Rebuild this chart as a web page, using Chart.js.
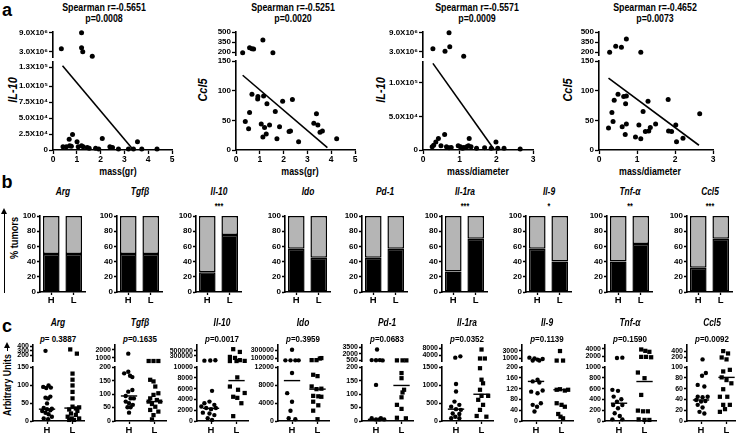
<!DOCTYPE html>
<html>
<head>
<meta charset="utf-8">
<script src="https://cdn.jsdelivr.net/npm/chart.js@4.4.1/dist/chart.umd.min.js"></script>
<style>
  html, body { margin: 0; padding: 0; background: #fff; }
  body { position: relative; width: 736px; height: 435px; overflow: hidden; color: #000;
         font-family: 'Liberation Sans', Arial, sans-serif; }
  .lbl { position: absolute; white-space: nowrap; line-height: 1; font-weight: bold; transform: translate(-50%, -50%) scaleX(0.84); }
  .rot { transform: translate(-50%, -50%) rotate(-90deg) scaleX(0.84); }
  .it { font-style: italic; }
  .panel { transform: translate(-50%, -50%); }
  canvas { position: absolute; }
  .arrow { position: absolute; border-left: 1.5px solid #000; }
  .arrow::before { content: ''; position: absolute; left: -4px; top: -5px; border-left: 3px solid transparent;
                   border-right: 3px solid transparent; border-bottom: 6px solid #000; }
</style>
</head>
<body>
<script>
// ---------- a: scatter vs tumour size ----------
const groups = ['H', 'L'];

// [x, y]
const massIl10 = [[0.35, 4.0e6], [1.2, 9.0e6], [1.2, 4.3e6], [1.25, 3.0e6], [1.65, 1.6e6],
  [0.42, 5000], [0.56, 5200], [0.68, 16700], [0.7, 6800], [0.77, 6000], [0.82, 24500], [1.01, 13000],
  [1.06, 5000], [1.2, 6800], [1.27, 5000], [1.44, 4000], [1.52, 2600], [1.79, 2600], [1.92, 1600],
  [2.07, 18000], [2.39, 5200], [2.5, 4000], [2.75, 1600], [3.17, 1600], [3.38, 1600], [3.55, 13000],
  [3.73, 1600], [4.37, 1600]];
const massCcl5 = [[0.28, 190], [0.57, 265], [0.67, 250], [0.74, 245], [1.13, 380], [1.55, 190],
  [0.39, 48], [0.53, 36], [0.57, 63], [0.67, 94], [0.91, 86], [0.92, 90], [1.06, 44], [1.16, 91],
  [1.13, 22], [1.2, 38], [1.27, 27], [1.3, 78], [1.41, 42], [1.65, 65], [1.72, 19], [1.83, 39],
  [1.96, 82], [2.23, 31], [2.29, 32], [2.37, 85], [2.63, 14], [3.27, 45], [3.38, 61], [3.44, 42],
  [3.53, 30], [3.63, 32], [4.23, 19]];
const ratioIl10 = [[0.27, 3.95e6], [0.6, 3.2e6], [0.71, 9.0e6], [0.73, 4.6e6], [1.11, 1.6e6],
  [0.25, 4900], [0.29, 6900], [0.35, 12000], [0.42, 17000], [0.49, 6400], [0.59, 23000], [0.64, 4900],
  [0.71, 3400], [0.77, 3900], [0.96, 6400], [1.02, 4900], [1.08, 2500], [1.11, 3900], [1.19, 4900],
  [1.24, 6400], [1.26, 17000], [1.31, 4900], [1.46, 2500], [1.68, 3400], [1.86, 2500], [1.99, 12000],
  [2.04, 2500], [2.21, 2500], [2.65, 1500]];
const ratioCcl5 = [[0.28, 195], [0.44, 285], [0.59, 270], [0.72, 395], [1.1, 195],
  [0.25, 37], [0.34, 63], [0.37, 48], [0.4, 84], [0.5, 94], [0.61, 39], [0.65, 90], [0.69, 26],
  [0.7, 78], [0.72, 91], [0.72, 44], [0.96, 22], [1.05, 42], [1.1, 19], [1.16, 65], [1.22, 31],
  [1.29, 82], [1.31, 32], [1.35, 38], [1.49, 44], [1.82, 85], [1.83, 32], [1.91, 31], [2.02, 42],
  [2.04, 14], [2.21, 20], [2.65, 61]];

// regression line end points
const fitMassIl10 = [[0.4, 132000], [3.38, 0]];
const fitMassCcl5 = [[0.28, 126], [3.84, 4]];
const fitRatioIl10 = [[0.27, 129000], [1.95, 0]];
const fitRatioCcl5 = [[0.25, 121], [2.63, 8]];

const spearmanR = ['Spearman r=-0.5651', 'Spearman r=-0.5251', 'Spearman r=-0.5571', 'Spearman r=-0.4652'];
const spearmanP = ['p=0.0008', 'p=0.0020', 'p=0.0009', 'p=0.0073'];
const scatterY = ['IL-10', 'Ccl5', 'IL-10', 'Ccl5'];
const scatterX = ['mass(gr)', 'mass(gr)', 'mass/diameter', 'mass/diameter'];

const massTicks = [0, 1, 2, 3, 4, 5];
const ratioTicks = [0, 1, 2, 3];
const il10LowTicksMass = [0, 25000, 50000, 75000, 100000, 130000];
const il10LowTicksRatio = [0, 50000, 100000];
const il10HighTicks = [3e6, 9e6];
const ccl5LowTicks = [0, 50, 100, 150];
const ccl5HighTicks = [200, 350, 500];

// ---------- b: % tumours ----------
const genes = ['Arg', 'Tgfβ', 'Il-10', 'Ido', 'Pd-1', 'Il-1ra', 'Il-9', 'Tnf-α', 'Ccl5'];
const stars = ['', '', '***', '', '', '***', '*', '**', '***'];
const blackH = [50, 50, 26, 57, 45, 27, 57, 40, 32];
const blackL = [50, 50, 75, 45, 57, 70, 40, 63, 70];
const grayH = [50, 50, 74, 43, 55, 73, 43, 60, 68];
const grayL = [50, 50, 25, 55, 43, 30, 60, 37, 30];
const pctTicks = [0, 20, 40, 60, 80, 100];

// ---------- c: arbitrary units ----------
const pValues = ['p= 0.3887', 'p=0.1635', 'p=0.0017', 'p=0.3959', 'p=0.0683', 'p=0.0352', 'p=0.1139', 'p=0.1590', 'p=0.0092'];
const lowMaxC = [150, 200, 10000, 12000, 200, 1500, 200, 1000, 100];
const lowTicksC = [[0, 50, 100, 150], [0, 50, 100, 150, 200], [0, 2000, 4000, 6000, 8000, 10000],
  [0, 4000, 8000, 12000], [0, 50, 100, 150, 200], [0, 500, 1000, 1500], [0, 40, 80, 120, 160, 200],
  [0, 200, 400, 600, 800, 1000], [0, 20, 40, 60, 80, 100]];
const highMinC = [80, 600, 90000, 30000, 300, 400, 300, 800, 60];
const highMaxC = [420, 2600, 730000, 420000, 4000, 10000, 4400, 4900, 600];
const highTicksC = [[200, 300, 400], [1000, 2000], [300000, 500000], [100000, 300000], [500, 2000, 3500],
  [4000, 8000], [1000, 3000], [2000, 4000], [200, 400]];
const medH = [33, 93, 2360, 9000, 6, 330, 147, 330, 39];
const medL = [36, 72, 7500, 7100, 132, 745, 116, 733, 81];

// [offset from column centre, value]
const ptsH = [
  [[-0.06, 300], [-0.15, 95], [-0.03, 92], [0.06, 99], [0.15, 93], [-0.06, 65], [0.04, 63], [0.13, 68], [0, 49],
   [-0.13, 36], [0, 33], [0.13, 30], [-0.06, 23], [0.06, 19], [0.19, 12], [-0.13, 7], [0.04, 5], [-0.19, 28], [0.19, 34]],
  [[-0.03, 1540], [-0.19, 177], [-0.03, 183], [0.04, 168], [0.13, 163], [-0.03, 109], [0.13, 115], [-0.13, 93],
   [0.06, 84], [0.19, 84], [-0.13, 72], [0, 66], [0.15, 60], [-0.06, 51], [0.06, 51], [0, 31]],
  [[-0.26, 110000], [-0.03, 115000], [0.17, 125000], [0.04, 5600], [-0.26, 3300], [-0.06, 3600], [0.13, 3000],
   [-0.38, 2700], [-0.19, 2400], [0, 2200], [0.19, 2400], [-0.32, 1550], [-0.06, 1400], [0.13, 1100], [-0.13, 500], [0.04, 200]],
  [[0, 307000], [-0.26, 50000], [-0.06, 50000], [0.13, 50000], [0.26, 50000], [0, 10700], [-0.19, 6200],
   [0, 4300], [-0.06, 2300], [-0.13, 600], [0.13, 400]],
  [[0.04, 3000], [-0.17, 550], [0, 500], [0.15, 550], [0.26, 480], [0, 134], [-0.17, 10], [0, 6], [0.19, 10],
   [0.32, 6], [0.13, 6]],
  [[-0.03, 2500], [0.17, 3300], [0, 1030], [0, 820], [-0.06, 540], [0.13, 450], [-0.19, 400], [0, 330],
   [0.19, 310], [-0.13, 210], [0.13, 195], [-0.03, 120], [-0.19, 75], [0.13, 75]],
  [[-0.26, 1200], [-0.06, 1000], [0.06, 700], [0.26, 850], [-0.13, 450], [0.13, 450], [-0.13, 147], [0.13, 143],
   [0.06, 153], [-0.19, 109], [0.06, 103], [0.26, 113], [-0.13, 60], [0.04, 53], [0.19, 66], [-0.06, 35]],
  [[-0.08, 1600], [0.13, 1700], [-0.26, 578], [-0.04, 560], [-0.21, 453], [0.09, 404], [-0.08, 360],
   [-0.23, 298], [0.13, 298], [-0.04, 236], [-0.17, 143], [0.03, 93], [-0.26, 31], [0.13, 31]],
  [[0.06, 120], [0.19, 89], [0.04, 84], [-0.13, 67], [0.13, 64], [-0.13, 45], [0.06, 44], [0.26, 45], [-0.19, 39],
   [0, 36], [0.17, 37], [-0.13, 30], [0.06, 25], [-0.06, 17], [0.13, 14]]
];
const ptsL = [
  [[-0.09, 330], [0.17, 240], [0, 132], [0, 115], [0, 99], [0, 81], [0, 63], [0, 40], [0.13, 35], [-0.13, 32],
   [0.26, 38], [-0.06, 21], [0.13, 17], [-0.03, 7], [0.26, 7], [0.06, 3], [-0.13, 3], [0.19, 28], [-0.19, 12]],
  [[-0.23, 620], [-0.04, 620], [0.15, 620], [-0.17, 153], [-0.04, 147], [0.03, 128], [0.15, 103], [-0.04, 97],
   [-0.17, 84], [0.09, 78], [-0.23, 72], [0.22, 72], [-0.1, 63], [0.03, 53], [-0.17, 41], [0.15, 35], [-0.04, 22], [-0.1, 6]],
  [[-0.13, 570000], [0.13, 460000], [-0.26, 260000], [-0.06, 220000], [0.13, 130000], [0.32, 100000],
   [-0.26, 95000], [0, 95000], [0.03, 8100], [-0.26, 6400], [0.06, 5800], [0.32, 5200], [-0.13, 4500],
   [0.03, 4300], [0.19, 3300], [-0.13, 900]],
  [[-0.23, 55000], [-0.04, 55000], [0.09, 95000], [0.15, 105000], [-0.17, 10300], [0, 10000], [-0.23, 7700],
   [-0.04, 7100], [0.15, 7200], [-0.17, 5600], [0.03, 5500], [0.15, 5400], [-0.17, 4300], [0.03, 3500],
   [-0.17, 2300], [0, 400]],
  [[-0.18, 480], [0.04, 480], [0.19, 480], [0, 178], [0, 159], [0.1, 116], [0.04, 106], [0, 88], [-0.18, 60],
   [0, 45], [-0.18, 12], [0.17, 10]],
  [[0, 7400], [-0.06, 2000], [0.13, 2000], [-0.06, 1470], [0, 1150], [0.06, 1050], [-0.06, 870], [0, 700],
   [0.26, 700], [-0.13, 590], [0.06, 450], [-0.06, 310], [-0.19, 140], [0.19, 120]],
  [[-0.06, 2900], [-0.19, 450], [0.06, 450], [-0.19, 116], [-0.06, 118], [0.13, 113], [0.26, 116], [-0.19, 66],
   [0, 60], [0.13, 53], [-0.13, 26], [-0.04, 16], [0.06, 10]],
  [[-0.13, 3800], [0.03, 3450], [0.19, 3200], [-0.13, 1900], [0.06, 1900], [0.26, 1800], [-0.26, 900],
   [0, 795], [-0.13, 484], [-0.26, 193], [-0.06, 180], [0.13, 180], [-0.23, 31], [0, 20], [0.19, 20]],
  [[-0.13, 400], [0.06, 320], [-0.19, 185], [0, 120], [-0.13, 92], [0.13, 95], [-0.19, 81], [0, 76], [0.19, 70],
   [-0.13, 59], [-0.26, 45], [0.03, 45], [-0.13, 30], [0.13, 30], [-0.06, 22], [-0.26, 17]]
];

// ---------- helpers ----------
const FF = "'Liberation Sans', Arial, sans-serif";
const SUP = {4: '⁴', 5: '⁵', 6: '⁶'};
function sci(v) {
  if (v === 0) return '0';
  const e = Math.floor(Math.log10(v));
  return (v / Math.pow(10, e)).toFixed(1) + 'X10' + SUP[e];
}
const plain = v => String(v);

function addText(html, x, y, size, cls) {
  const d = document.createElement('div');
  d.className = 'lbl ' + (cls || '');
  d.style.left = x + 'px';
  d.style.top = y + 'px';
  d.style.fontSize = size + 'px';
  d.innerHTML = html;
  document.body.appendChild(d);
}

function addCanvas(area, yw, xh, pad) {
  const left = area.l - yw - pad.left, top = area.t - pad.top;
  const w = area.r + pad.right - left, h = area.b + xh + pad.bottom - top;
  const cv = document.createElement('canvas');
  cv.width = w;
  cv.height = h;
  cv.style.left = left + 'px';
  cv.style.top = top + 'px';
  document.body.appendChild(cv);
  return cv;
}

function yAxis(min, max, ticks, fmt, fs, yw, stackWeight, order, tl) {
  return {
    type: 'linear', position: 'left', stack: 'left', stackWeight: stackWeight, weight: order,
    min: min, max: max, offset: false,
    afterFit: s => { s.width = yw; },
    afterBuildTicks: s => { s.ticks = ticks.map(v => ({value: v})); },
    grid: {drawOnChartArea: false, tickLength: tl, tickWidth: 1.3, tickColor: '#000'},
    border: {color: '#000', width: 1.6},
    ticks: {font: {family: FF, size: fs, weight: 'bold'}, color: '#000', padding: 1, autoSkip: false, callback: v => fmt(v)}
  };
}
function gapAxis(yw, stackWeight) {
  return {
    type: 'linear', position: 'left', stack: 'left', stackWeight: stackWeight, weight: 1,
    afterFit: s => { s.width = yw; },
    grid: {display: false}, border: {display: false}, ticks: {display: false}
  };
}
function xAxisLinear(min, max, ticks, fmt, fs, xh, tl) {
  return {
    type: 'linear', position: 'bottom', min: min, max: max,
    afterFit: s => { s.height = xh; },
    afterBuildTicks: s => { s.ticks = ticks.map(v => ({value: v})); },
    grid: {drawOnChartArea: false, tickLength: tl, tickWidth: 1.3, tickColor: '#000'},
    border: {color: '#000', width: 1.6},
    ticks: {font: {family: FF, size: fs, weight: 'bold'}, color: '#000', padding: 1, autoSkip: false, maxRotation: 0, callback: v => fmt(v)}
  };
}
const toXY = (arr, dx) => arr.map(p => ({x: p[0] + (dx || 0), y: p[1]}));
const baseOpts = {animation: false, responsive: false, devicePixelRatio: 1, events: [],
  plugins: {legend: {display: false}, tooltip: {enabled: false}}};

// ---------- panel a ----------
const aPoints = [massIl10, massCcl5, ratioIl10, ratioCcl5];
const aFits = [fitMassIl10, fitMassCcl5, fitRatioIl10, fitRatioCcl5];
const aXTicks = [massTicks, massTicks, ratioTicks, ratioTicks];
const aLowTicks = [il10LowTicksMass, ccl5LowTicks, il10LowTicksRatio, ccl5LowTicks];
const aHighTicks = [il10HighTicks, ccl5HighTicks, il10HighTicks, ccl5HighTicks];
const aLowMax = [138000, 150, 131000, 150];
const aHighMin = [1.4e6, 155, 1.4e6, 155];
const aHighMax = [9.2e6, 500, 9.2e6, 500];
const aFmt = [sci, plain, sci, plain];
const aAreas = [{l: 53, t: 32, r: 172, b: 150}, {l: 236, t: 32, r: 355, b: 150},
                {l: 423, t: 32, r: 533, b: 150}, {l: 599, t: 32, r: 713, b: 150}];
const aWeights = [[25, 5, 88], [23, 6, 89], [25, 5, 88], [23, 6, 89]];
const aTitleX = [104, 293, 477, 655];
const aYTitleX = [12, 202, 380, 567];
const aXTitleX = [118, 300, 478, 650];

addText('a', 7, 10, 18, 'panel');
aPoints.forEach((pts, i) => {
  addText(spearmanR[i], aTitleX[i], 7, 10.5);
  addText(spearmanP[i], aTitleX[i], 18, 10.5);
  addText(scatterY[i], aYTitleX[i], 90, 13, 'rot it');
  addText(scatterX[i], aXTitleX[i], 171, 10.5);
  const yw = 46, xh = 14;
  const cv = addCanvas(aAreas[i], yw, xh, {left: 0, top: 6, right: 8, bottom: 0});
  const low = pts.filter(p => p[1] <= aLowMax[i]);
  const high = pts.filter(p => p[1] > aLowMax[i]);
  const dot = {pointRadius: 2.5, pointBackgroundColor: '#000', pointBorderWidth: 0, clip: false};
  const w = aWeights[i];
  new Chart(cv, {
    type: 'scatter',
    data: {datasets: [
      Object.assign({data: toXY(high), xAxisID: 'x', yAxisID: 'yTop'}, dot),
      Object.assign({data: toXY(low), xAxisID: 'x', yAxisID: 'yBot'}, dot),
      {data: toXY(aFits[i]), xAxisID: 'x', yAxisID: 'yBot', showLine: true, borderColor: '#000',
       borderWidth: 1.6, pointRadius: 0, clip: false}
    ]},
    options: Object.assign({}, baseOpts, {
      layout: {padding: {left: 0, top: 6, right: 8, bottom: 0}},
      scales: {
        x: xAxisLinear(0, aXTicks[i][aXTicks[i].length - 1], aXTicks[i], plain, 8.5, xh, 4),
        yTop: yAxis(aHighMin[i], aHighMax[i], aHighTicks[i], aFmt[i], 8, yw, w[0], 2, 4),
        yGap: gapAxis(yw, w[1]),
        yBot: yAxis(0, aLowMax[i], aLowTicks[i], aFmt[i], 8, yw, w[2], 0, 4)
      }
    })
  });
});

// ---------- panel b ----------
const bAxes = [40, 117, 196, 285, 362, 442, 526, 607, 687];
addText('b', 7, 182, 18, 'panel');
addText('% tumors', 14, 238, 11, 'rot');
(function () {
  const a = document.createElement('div');
  a.className = 'arrow';
  a.style.cssText = 'left:4px;top:213px;height:80px;';
  document.body.appendChild(a);
})();
genes.forEach((g, i) => {
  const area = {l: bAxes[i], t: 216, r: bAxes[i] + 45, b: 292};
  addText(g, area.l + 22.5, 192, 10, 'it');
  if (stars[i]) addText(stars[i], area.l + 22.5, 206, 8.5);
  const cv = addCanvas(area, 22, 12, {left: 0, top: 6, right: 3, bottom: 0});
  const bar = {borderColor: '#000', borderWidth: 1.5, borderSkipped: false, barPercentage: 0.74, categoryPercentage: 1};
  new Chart(cv, {
    type: 'bar',
    data: {labels: groups, datasets: [
      Object.assign({data: [blackH[i], blackL[i]], backgroundColor: '#000'}, bar),
      Object.assign({data: [grayH[i], grayL[i]], backgroundColor: '#b5b5b5'}, bar)
    ]},
    options: Object.assign({}, baseOpts, {
      layout: {padding: {left: 0, top: 6, right: 3, bottom: 0}},
      scales: {
        x: {stacked: true, afterFit: s => { s.height = 12; },
            grid: {offset: false, drawOnChartArea: false, tickLength: 3, tickWidth: 1.3, tickColor: '#000'},
            border: {color: '#000', width: 1.6},
            ticks: {font: {family: FF, size: 9.5, weight: 'bold'}, color: '#000', padding: 0}},
        y: {stacked: true, min: 0, max: 100, afterFit: s => { s.width = 22; },
            afterBuildTicks: s => { s.ticks = pctTicks.map(v => ({value: v})); },
            grid: {drawOnChartArea: false, tickLength: 3, tickWidth: 1.3, tickColor: '#000'},
            border: {color: '#000', width: 1.6},
            ticks: {font: {family: FF, size: 8, weight: 'bold'}, color: '#000', padding: 1}}
      }
    })
  });
});

// ---------- panel c ----------
const cAxes = [33, 115, 197, 278, 362, 442, 522, 605, 687];
addText('c', 7, 326, 18, 'panel');
addText('Arbitrary Units', 7, 385, 10.5, 'rot');
(function () {
  const a = document.createElement('div');
  a.className = 'arrow';
  a.style.cssText = 'left:7px;top:347px;height:4px;';
  document.body.appendChild(a);
})();
genes.forEach((g, i) => {
  const area = {l: cAxes[i], t: 345, r: cAxes[i] + 52, b: 421};
  addText(g, area.l + 25, 323, 10, 'it');
  addText(pValues[i].replace('p', '<i>p</i>'), area.l + 25, 339, 9.5);
  const yw = 30, xh = 12;
  const cv = addCanvas(area, yw, xh, {left: 0, top: 5, right: 3, bottom: 0});
  const sets = [];
  [ptsH[i], ptsL[i]].forEach((pts, k) => {
    const style = k === 0
      ? {pointStyle: 'circle', pointRadius: 2.2}
      : {pointStyle: 'rect', pointRadius: 3};
    const common = Object.assign({pointBackgroundColor: '#000', pointBorderWidth: 0, clip: false, xAxisID: 'x'}, style);
    sets.push(Object.assign({data: toXY(pts.filter(p => p[1] > lowMaxC[i]), k + 1), yAxisID: 'yTop'}, common));
    sets.push(Object.assign({data: toXY(pts.filter(p => p[1] <= lowMaxC[i]), k + 1), yAxisID: 'yBot'}, common));
  });
  [medH[i], medL[i]].forEach((m, k) => {
    sets.push({data: [{x: k + 1 - 0.32, y: m}, {x: k + 1 + 0.32, y: m}], xAxisID: 'x', yAxisID: 'yBot',
               showLine: true, borderColor: '#000', borderWidth: 1.4, pointRadius: 0, clip: false});
  });
  new Chart(cv, {
    type: 'scatter',
    data: {datasets: sets},
    options: Object.assign({}, baseOpts, {
      layout: {padding: {left: 0, top: 5, right: 3, bottom: 0}},
      scales: {
        x: xAxisLinear(0.45, 2.45, [1, 2], v => groups[v - 1], 9.5, xh, 3),
        yTop: yAxis(highMinC[i], highMaxC[i], highTicksC[i], plain, 7, yw, 16, 2, 3),
        yGap: gapAxis(yw, 6),
        yBot: yAxis(0, lowMaxC[i], lowTicksC[i], plain, 7, yw, 54, 0, 3)
      }
    })
  });
});
</script>
</body>
</html>
